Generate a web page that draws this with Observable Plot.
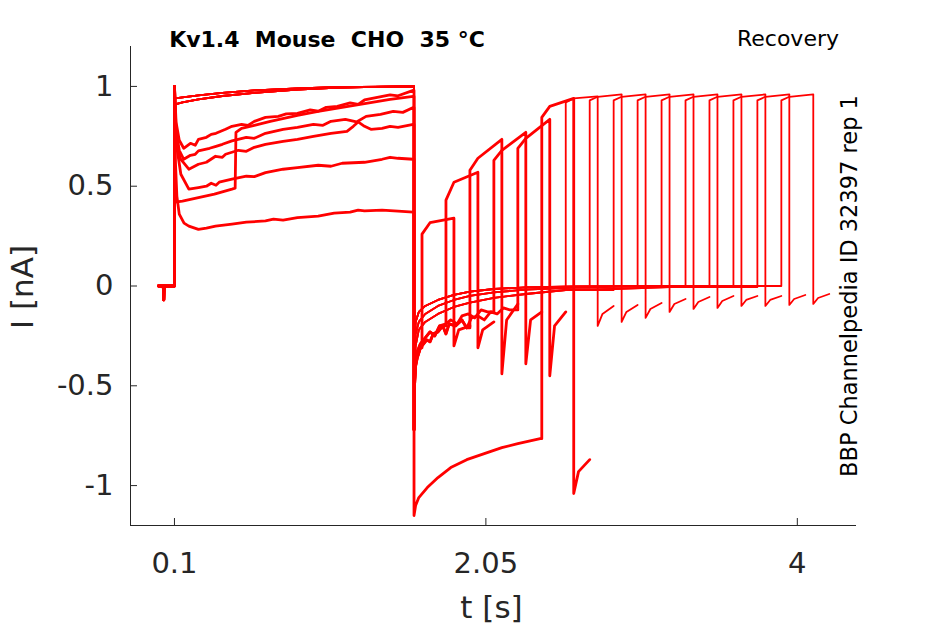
<!DOCTYPE html>
<html><head><meta charset="utf-8">
<script src="https://cdn.jsdelivr.net/npm/d3@7"></script>
<script src="https://cdn.jsdelivr.net/npm/@observablehq/plot@0.6"></script>
<style>body{margin:0;background:#fff}</style>
</head><body><div id="chart"></div>
<script>
// ---- tick labels ----
const xTicks = [0.1, 2.05, 4];
const xTickLabels = ["0.1", "2.05", "4"];
const yTicks = [-1, -0.5, 0, 0.5, 1];
const yTickLabels = ["-1", "-0.5", "0", "0.5", "1"];

// ---- sweeps ----
const sweeps = [0,1,2,3,4,5,6,7,8,9,10,11,12,13,14,15];
const noisySweeps = [0,1,2,3,4,5];
const pulse1End = 1.6;

// holding before first pulse [t, I]
const prePulse = [[0,0],[0.03,0],[0.033,-0.07],[0.036,0],[0.1,0]];

// first pulse shapes [t, I]
const noisy1 = [[0.1,1.0],[0.11,0.82],[0.13,0.73],[0.158,0.69],[0.2,0.715],[0.23,0.705],[0.25,0.735],[0.3,0.745],[0.33,0.76],[0.36,0.765],[0.42,0.785],[0.46,0.8],[0.52,0.81],[0.56,0.805],[0.6,0.825],[0.67,0.845],[0.75,0.85],[0.8,0.862],[0.87,0.865],[0.95,0.882],[1.0,0.876],[1.05,0.895],[1.12,0.9],[1.2,0.918],[1.25,0.91],[1.29,0.932],[1.37,0.945],[1.45,0.958],[1.5,0.953],[1.595,0.98]];
const noisy2 = [[0.1,1.0],[0.11,0.78],[0.13,0.68],[0.158,0.635],[0.2,0.655],[0.23,0.66],[0.25,0.677],[0.32,0.69],[0.36,0.7],[0.4,0.71],[0.46,0.727],[0.55,0.745],[0.6,0.74],[0.67,0.765],[0.78,0.785],[0.87,0.795],[0.97,0.81],[1.03,0.805],[1.08,0.825],[1.17,0.835],[1.24,0.822],[1.3,0.85],[1.39,0.86],[1.47,0.875],[1.53,0.87],[1.595,0.894]];
const noisy3 = [[0.1,1.0],[0.11,0.75],[0.135,0.64],[0.19,0.585],[0.25,0.61],[0.3,0.62],[0.357,0.65],[0.4,0.645],[0.42,0.66],[0.5,0.68],[0.55,0.675],[0.6,0.695],[0.67,0.71],[0.78,0.725],[0.87,0.735],[0.97,0.75],[1.08,0.765],[1.18,0.775],[1.22,0.8],[1.25,0.822],[1.29,0.8],[1.33,0.785],[1.4,0.79],[1.45,0.8],[1.5,0.795],[1.595,0.81]];
const noisy4 = [[0.1,1.0],[0.11,0.72],[0.14,0.56],[0.19,0.485],[0.25,0.493],[0.3,0.5],[0.33,0.515],[0.36,0.505],[0.38,0.52],[0.46,0.535],[0.55,0.55],[0.6,0.548],[0.67,0.568],[0.78,0.585],[0.87,0.593],[1.0,0.605],[1.08,0.6],[1.15,0.615],[1.29,0.62],[1.4,0.635],[1.45,0.645],[1.5,0.64],[1.595,0.635]];
const noisy5 = [[0.1,1.0],[0.106,0.62],[0.115,0.45],[0.13,0.36],[0.16,0.315],[0.19,0.3],[0.25,0.284],[0.3,0.29],[0.357,0.3],[0.46,0.31],[0.55,0.32],[0.67,0.326],[0.72,0.335],[0.78,0.33],[0.87,0.343],[1.0,0.35],[1.1,0.365],[1.2,0.37],[1.25,0.38],[1.29,0.376],[1.4,0.38],[1.5,0.375],[1.595,0.37]];
const weird1 = [[0.1,1.0],[0.104,0.42],[0.15,0.425],[0.25,0.443],[0.35,0.46],[0.46,0.485],[0.48,0.49],[0.485,0.77],[0.52,0.79],[0.6,0.805],[0.7,0.825],[0.87,0.855],[1.0,0.875],[1.15,0.895],[1.3,0.915],[1.45,0.935],[1.595,0.95]];
const smoothA = [[0.1,1.0],[0.104,0.91],[0.15,0.92],[0.25,0.935],[0.4,0.952],[0.6,0.968],[0.87,0.984],[1.1,0.993],[1.35,0.998],[1.595,1.0]];
const smoothB = [[0.1,1.0],[0.104,0.94],[0.15,0.945],[0.25,0.955],[0.4,0.968],[0.6,0.98],[0.87,0.99],[1.1,0.996],[1.595,1.0]];

// tail after first pulse [t, I]
const noisyTailA = [[1.6,-0.72],[1.603,-0.5],[1.61,-0.4],[1.62,-0.36],[1.64,-0.31],[1.66,-0.29],[1.68,-0.27],[1.7,-0.28],[1.72,-0.24],[1.75,-0.23],[1.78,-0.2],[1.8,-0.24],[1.82,-0.19],[1.86,-0.2],[1.9,-0.17],[1.93,-0.21],[1.96,-0.16],[2.0,-0.15],[2.04,-0.17],[2.08,-0.13],[2.12,-0.14],[2.16,-0.11],[2.2,-0.12],[2.25,-0.1]];
const noisyTailB = [[1.6,-0.72],[1.603,-0.48],[1.61,-0.37],[1.62,-0.33],[1.64,-0.29],[1.67,-0.26],[1.7,-0.23],[1.73,-0.25],[1.76,-0.2],[1.8,-0.19],[1.83,-0.17],[1.87,-0.19],[1.9,-0.15],[1.94,-0.14],[1.98,-0.16],[2.02,-0.12],[2.06,-0.13],[2.1,-0.1],[2.15,-0.11],[2.2,-0.09],[2.25,-0.08]];
const weirdTail = [[1.6,-1.15],[1.61,-1.1],[1.63,-1.06],[1.683,-1.01],[1.75,-0.96],[1.83,-0.91],[1.93,-0.87],[2.04,-0.84],[2.15,-0.81],[2.25,-0.79],[2.39,-0.765]];
const smoothTailA = [[1.6,-0.7],[1.603,-0.3],[1.61,-0.18],[1.63,-0.13],[1.67,-0.1],[1.75,-0.07],[1.85,-0.045],[1.95,-0.028],[2.1,-0.015],[2.3,-0.007],[2.6,-0.002],[3.0,0],[4.0,0]];
const smoothTailB = [[1.6,-0.72],[1.603,-0.36],[1.61,-0.24],[1.63,-0.18],[1.67,-0.14],[1.75,-0.1],[1.85,-0.07],[1.95,-0.05],[2.1,-0.032],[2.3,-0.018],[2.6,-0.008],[3.0,-0.002],[4.0,0]];
const smoothTailC = [[1.6,-0.74],[1.603,-0.42],[1.61,-0.3],[1.63,-0.22],[1.67,-0.18],[1.75,-0.14],[1.85,-0.105],[1.95,-0.083],[2.1,-0.06],[2.3,-0.04],[2.55,-0.02],[2.85,-0.015],[3.2,-0.005],[4.0,0]];

const pulse1Shape = ["noisy5","noisy4","noisy3","noisy2","noisy1","weird1","smoothA","smoothB","smoothA","smoothB","smoothA","smoothB","smoothA","smoothB","smoothA","smoothB"];
const tail1Shape = ["noisyTailA","noisyTailB","noisyTailA","noisyTailB","noisyTailA","weirdTail","smoothTailA","smoothTailB","smoothTailC","smoothTailA","smoothTailB","smoothTailC","smoothTailA","smoothTailB","smoothTailC","smoothTailA"];

// test pulse timing [s]
const testStart = [1.65,1.80,1.95,2.10,2.25,2.40,2.55,2.70,2.85,3.00,3.15,3.30,3.45,3.60,3.75,3.90];
const testMidT  = [1.70,1.85,2.00,2.15,2.30,2.45,2.60,2.75,2.90,3.05,3.20,3.35,3.50,3.65,3.80,3.95];
const testEnd   = [1.85,2.00,2.15,2.30,2.45,2.60,2.75,2.90,3.05,3.20,3.35,3.50,3.65,3.80,3.95,4.10];
const tail2MidT = [1.88,2.03,2.18,2.33,2.48,2.63,2.78,2.93,3.08,3.23,3.38,3.53,3.68,3.83,3.98,4.13];
const recEnd    = [1.95,2.10,2.25,2.40,2.55,2.70,2.85,3.00,3.15,3.30,3.45,3.60,3.75,3.90,4.05,4.20];
// test pulse current [nA]
const testA = [0.26,0.43,0.58,0.63,0.69,0.845,0.92,0.93,0.93,0.93,0.93,0.93,0.93,0.93,0.93,0.93];
const testM = [0.317,0.52,0.64,0.68,0.74,0.90,0.94,0.948,0.948,0.948,0.948,0.948,0.948,0.948,0.948,0.948];
const testB = [0.34,0.57,0.735,0.77,0.835,0.94,0.95,0.96,0.96,0.96,0.96,0.96,0.96,0.96,0.96,0.96];
// tail after test pulse [nA]
const tail2D = [-0.30,-0.31,-0.44,-0.39,-0.45,-1.04,-0.20,-0.18,-0.16,-0.13,-0.115,-0.11,-0.10,-0.10,-0.095,-0.09];
const tail2M = [-0.22,-0.22,-0.17,-0.17,-0.20,-0.93,-0.14,-0.13,-0.115,-0.09,-0.08,-0.075,-0.07,-0.07,-0.065,-0.06];
const tail2E = [-0.20,-0.18,-0.09,-0.13,-0.13,-0.87,-0.10,-0.095,-0.085,-0.065,-0.055,-0.05,-0.05,-0.05,-0.045,-0.04];

// ---- build table ----
const p1Shapes = {noisy1, noisy2, noisy3, noisy4, noisy5, weird1, smoothA, smoothB};
const t1Shapes = {noisyTailA, noisyTailB, weirdTail, smoothTailA, smoothTailB, smoothTailC};
const rows = [];
sweeps.forEach((k, i) => {
  const pts = [];
  prePulse.forEach(p => pts.push(p));
  p1Shapes[pulse1Shape[i]].forEach(p => pts.push(p));
  pts.push([pulse1End, pts[pts.length - 1][1]]);
  const tail = t1Shapes[tail1Shape[i]].filter(p => p[0] < testStart[i]);
  tail.forEach(p => pts.push(p));
  pts.push([testStart[i], tail[tail.length - 1][1]]);
  pts.push([testStart[i], testA[i]]);
  pts.push([testMidT[i], testM[i]]);
  pts.push([testEnd[i], testB[i]]);
  pts.push([testEnd[i], tail2D[i]]);
  pts.push([tail2MidT[i], tail2M[i]]);
  pts.push([recEnd[i], tail2E[i]]);
  const noisy = noisySweeps.includes(k);
  pts.forEach(([t, I]) => rows.push({sweep: k, t, I, noisy}));
});

const xDomain = [-0.1753, 4.3706];
const yDomain = [-1.2, 1.2];
const ink = "#262626";

const plot = Plot.plot({
  width: 945, height: 624,
  marginLeft: 130, marginRight: 89, marginTop: 46, marginBottom: 99,
  style: {fontFamily: "DejaVu Sans", fontSize: "28px", color: ink, background: "white", overflow: "visible"},
  x: {domain: xDomain},
  y: {domain: yDomain},
  marks: [
    Plot.line(rows.filter(d => !d.noisy), {x: "t", y: "I", z: "sweep", stroke: "#ff0000", strokeWidth: 1.8}),
    Plot.line(rows.filter(d => d.noisy), {x: "t", y: "I", z: "sweep", stroke: "#ff0000", strokeWidth: 2.8}),
    Plot.ruleX([xDomain[0]], {stroke: ink, strokeWidth: 1}),
    Plot.ruleY([yDomain[0]], {stroke: ink, strokeWidth: 1}),
    Plot.axisY({ticks: yTicks, tickSize: 0, tickPadding: 17, tickFormat: d => yTickLabels[yTicks.indexOf(d)], label: null, fontSize: 29}),
    Plot.axisY({ticks: yTicks, tickSize: 7, dx: 7, tickFormat: () => "", label: null}),
    Plot.axisX({ticks: xTicks, tickSize: 0, tickPadding: 27, tickFormat: d => xTickLabels[xTicks.indexOf(d)], label: null, fontSize: 29}),
    Plot.axisX({ticks: xTicks, tickSize: 7, dy: -7, tickFormat: () => "", label: null})
  ]
});
document.getElementById("chart").appendChild(plot);

const svg = d3.select(plot);
svg.append("text").attr("x", 327).attr("y", 47).attr("text-anchor", "middle")
  .attr("font-family", "DejaVu Sans").attr("font-weight", "bold").attr("font-size", 22)
  .attr("fill", "#000").style("white-space", "pre").text("Kv1.4  Mouse  CHO  35 °C");
svg.append("text").attr("x", 839).attr("y", 46).attr("text-anchor", "end")
  .attr("font-family", "DejaVu Sans").attr("font-size", 22).attr("fill", "#000").text("Recovery");
svg.append("text").attr("transform", "translate(857,286) rotate(-90)").attr("text-anchor", "middle")
  .attr("font-family", "DejaVu Sans").attr("font-size", 22.5).attr("fill", "#000").text("BBP Channelpedia ID 32397 rep 1");
svg.append("text").attr("transform", "translate(33,287) rotate(-90)").attr("text-anchor", "middle")
  .attr("font-family", "DejaVu Sans").attr("font-size", 31).attr("fill", ink).text("I [nA]");
svg.append("text").attr("x", 491.5).attr("y", 618).attr("text-anchor", "middle")
  .attr("font-family", "DejaVu Sans").attr("font-size", 31).attr("fill", ink).text("t [s]");
</script></body></html>
